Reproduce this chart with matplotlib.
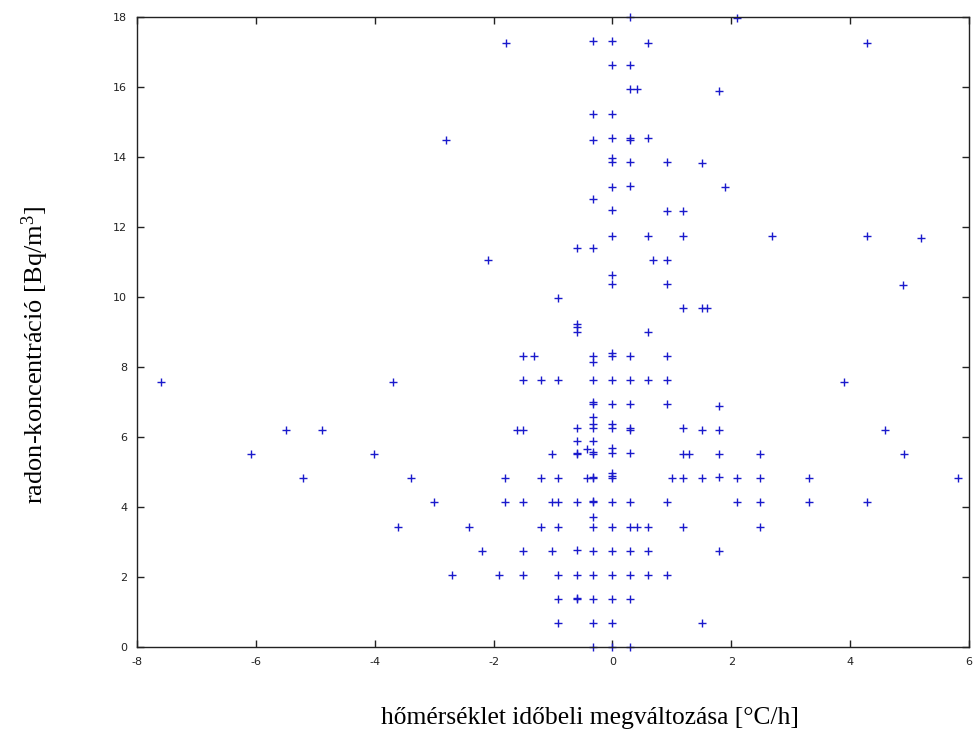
import matplotlib
matplotlib.use("Agg")
import matplotlib.pyplot as plt

# temperature change rate [°C/h] and radon concentration [Bq/m3]
x_top = [0.29, 2.10, -1.79, -0.32, 0, 0.60, 4.29, 0, 0.29, 0.29, 0.41, 1.79, -0.32, 0,
         -2.80, -0.32, 0, 0.29, 0.29, 0.60, 0, 0, 0.29, 0.91, 1.50, 0, 0.29, 1.89,
         -0.32, 0, 0.91, 1.19, 0, 0.60, 1.19, 2.69, 4.29, 5.20, -0.60, -0.32, -2.10,
         0.69, 0.91, 0, 0, 0.91, 4.89, -0.91, 1.19, 1.50, 1.59, -0.60, -0.60, -0.60, 0.60]
y_top = [18.0, 17.96, 17.27, 17.31, 17.31, 17.27, 17.27, 16.62, 16.62, 15.93, 15.93, 15.89,
         15.24, 15.24, 14.50, 14.50, 14.55, 14.55, 14.50, 14.55, 13.96, 13.86, 13.86, 13.86,
         13.82, 13.13, 13.17, 13.13, 12.81, 12.49, 12.45, 12.45, 11.75, 11.75, 11.75, 11.75,
         11.75, 11.70, 11.39, 11.39, 11.07, 11.07, 11.07, 10.63, 10.37, 10.37, 10.33, 9.96,
         9.69, 9.69, 9.69, 9.23, 9.15, 8.99, 8.99]

x_mid = [-1.51, -1.32, -0.32, -0.32, 0, 0, 0.29, 0.91,
         -7.59, -3.70, -1.51, -1.20, -0.91, -0.32, 0, 0.29, 0.60, 0.91, 3.89,
         -0.32, -0.32, 0, 0.29, 0.91, 1.79, -0.32,
         -5.49, -4.89, -1.61, -1.51, -0.60, -0.32, -0.32, 0, 0, 0.29, 0.29, 1.19, 1.50, 1.79, 4.59,
         -0.60, -0.32,
         -6.09, -4.01, -1.01, -0.60, -0.60, -0.42, -0.32, -0.32, 0, 0, 0.29, 1.19, 1.29, 1.79, 2.48, 4.90]
y_mid = [8.31, 8.31, 8.31, 8.14, 8.40, 8.31, 8.31, 8.31,
         7.57, 7.57, 7.62, 7.62, 7.62, 7.62, 7.62, 7.62, 7.62, 7.62, 7.58,
         7.01, 6.93, 6.93, 6.93, 6.93, 6.88, 6.58,
         6.20, 6.20, 6.20, 6.20, 6.25, 6.36, 6.25, 6.36, 6.25, 6.25, 6.20, 6.25, 6.20, 6.20, 6.20,
         5.89, 5.89,
         5.51, 5.51, 5.51, 5.55, 5.51, 5.65, 5.58, 5.51, 5.68, 5.55, 5.53, 5.51, 5.51, 5.51, 5.51, 5.51]

x_low = [-5.20, -3.39, -1.80, -1.20, -0.91, -0.42, -0.32, -0.32, 0, 0, 0, 1.00, 1.19, 1.50,
         1.79, 2.10, 2.48, 3.30, 5.81,
         -3.01, -1.80, -1.51, -1.01, -0.91, -0.60, -0.32, -0.32, 0, 0.29, 0.91, 2.10, 2.48,
         3.30, 4.29,
         -0.32,
         -3.60, -2.41, -1.20, -0.91, -0.32, 0, 0.29, 0.41, 0.60, 1.19, 2.48,
         -2.20, -1.51, -1.01, -0.60, -0.32, 0, 0.29, 0.60, 1.79,
         -2.70, -1.91, -1.51, -0.91, -0.60, -0.32, 0, 0.29, 0.60, 0.91,
         -0.91, -0.60, -0.60, -0.32, 0, 0.29,
         -0.91, -0.32, 0, 1.50,
         -0.32, 0, 0.29]
y_low = [4.82, 4.82, 4.82, 4.82, 4.82, 4.82, 4.82, 4.85, 4.96, 4.90, 4.82, 4.82, 4.82, 4.82,
         4.87, 4.82, 4.82, 4.82, 4.82,
         4.13, 4.13, 4.13, 4.13, 4.13, 4.13, 4.16, 4.13, 4.13, 4.13, 4.13, 4.13, 4.13,
         4.13, 4.13,
         3.72,
         3.44, 3.44, 3.44, 3.44, 3.44, 3.44, 3.44, 3.44, 3.44, 3.44, 3.44,
         2.75, 2.75, 2.75, 2.78, 2.75, 2.75, 2.75, 2.75, 2.75,
         2.06, 2.06, 2.06, 2.06, 2.06, 2.06, 2.06, 2.06, 2.06, 2.06,
         1.37, 1.40, 1.37, 1.37, 1.37, 1.37,
         0.69, 0.69, 0.69, 0.69,
         0, 0, 0]

x_vals = x_top + x_mid + x_low
y_vals = y_top + y_mid + y_low

x_ticks = [-8, -6, -4, -2, 0, 2, 4, 6]
y_ticks = [0, 2, 4, 6, 8, 10, 12, 14, 16, 18]
x_label = "hőmérséklet időbeli megváltozása [°C/h]"
y_label = "radon-koncentráció [Bq/m$^3$]"

plt.rcParams['axes.unicode_minus'] = False
plt.rcParams['mathtext.fontset'] = 'custom'
plt.rcParams['mathtext.rm'] = 'Liberation Serif'
plt.rcParams['mathtext.it'] = 'Liberation Serif'

W, H = 979, 732
fig = plt.figure(figsize=(W / 100, H / 100), dpi=100)
ax = fig.add_axes([137 / W, 85 / H, 832 / W, 630 / H])

ax.plot(x_vals, y_vals, linestyle='none', marker='+', markersize=5.5,
        markeredgewidth=1.0, color='#1a1acc', clip_on=False)

ax.set_xlim(-8, 6)
ax.set_ylim(0, 18)
ax.set_xticks(x_ticks)
ax.set_yticks(y_ticks)
ax.tick_params(direction='in', length=5, width=1, top=True, right=True,
               labelsize=8, colors='#222222', pad=7)
for sp in ax.spines.values():
    sp.set_linewidth(1.0)
    sp.set_color('#222222')

fig.text(590 / W, 1 - 718 / H, x_label, family='Liberation Serif', fontsize=18.4,
         ha='center', va='center')
fig.text(35 / W, 1 - 355 / H, y_label, family='Liberation Serif', fontsize=19.0,
         ha='center', va='center', rotation=90)

fig.savefig("out.png", dpi=100)
